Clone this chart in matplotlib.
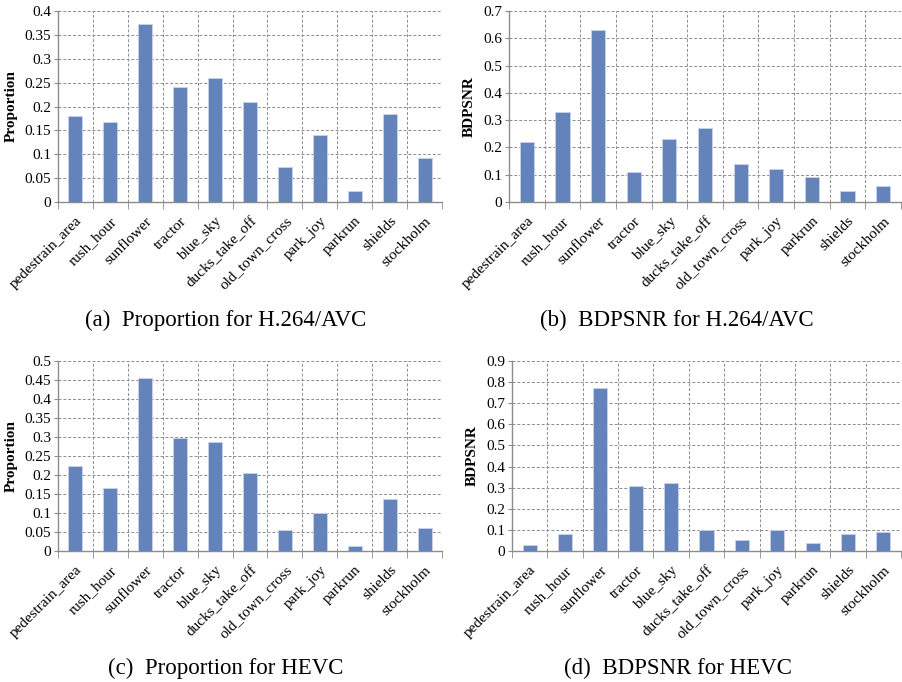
import numpy as np
import matplotlib.pyplot as plt

plt.rcParams['font.family'] = ['Liberation Serif', 'DejaVu Serif']

sequences = ['pedestrain_area', 'rush_hour', 'sunflower', 'tractor', 'blue_sky',
             'ducks_take_off', 'old_town_cross', 'park_joy', 'parkrun', 'shields',
             'stockholm']

prop_avc = [0.180, 0.167, 0.373, 0.241, 0.259, 0.210, 0.074, 0.140, 0.024, 0.185, 0.093]
bdpsnr_avc = [0.22, 0.33, 0.63, 0.11, 0.23, 0.27, 0.14, 0.12, 0.09, 0.04, 0.06]
prop_hevc = [0.224, 0.165, 0.454, 0.298, 0.286, 0.205, 0.054, 0.101, 0.013, 0.138, 0.061]
bdpsnr_hevc = [0.03, 0.08, 0.77, 0.31, 0.32, 0.10, 0.05, 0.10, 0.04, 0.08, 0.09]

captions = ['(a)  Proportion for H.264/AVC', '(b)  BDPSNR for H.264/AVC',
            '(c)  Proportion for HEVC', '(d)  BDPSNR for HEVC']

W, H = 902, 682
bar_color = '#6483BA'
grid_color = '#8c8c8c'


def px_axes(fig, left, top, right, bottom):
    return fig.add_axes([left / W, (H - bottom) / H, (right - left) / W, (bottom - top) / H])


def bar_panel(ax, values, ylabel, ymax, ystep, yfmt):
    x = np.arange(len(sequences))
    ax.bar(x, values, width=0.4, color=bar_color, edgecolor='#c9d4ea', linewidth=0.6, zorder=3)
    ax.set_xlim(-0.5, len(sequences) - 0.5)
    ax.set_ylim(0, ymax)
    yt = np.arange(0, ymax + ystep / 2, ystep)
    ax.set_yticks(yt)
    ax.set_yticklabels([yfmt(v) for v in yt], fontsize=11)
    ax.set_xticks(x)
    ax.set_xticklabels(sequences, rotation=45, ha='right', rotation_mode='anchor', fontsize=11)
    ax.set_xticks(np.arange(-0.5, len(sequences)), minor=True)
    ax.tick_params(axis='x', which='major', length=0, pad=9)
    ax.tick_params(axis='x', which='minor', length=5, color=grid_color, direction='out')
    ax.tick_params(axis='y', length=3, color=grid_color, pad=2)
    ax.grid(True, axis='y', which='major', color=grid_color, linestyle=(0, (3, 2)), linewidth=0.7, zorder=0)
    ax.grid(True, axis='x', which='minor', color=grid_color, linestyle=(0, (3, 2)), linewidth=0.7, zorder=0)
    for side in ['top', 'right']:
        ax.spines[side].set_visible(False)
    for side in ['left', 'bottom']:
        ax.spines[side].set_color(grid_color)
        ax.spines[side].set_linewidth(1.0)
    ax.set_ylabel(ylabel, fontsize=11, fontweight='bold', labelpad=5)


def fmt(v):
    s = f'{v:.2f}'.rstrip('0').rstrip('.')
    return s if s else '0'


fig = plt.figure(figsize=(W / 100, H / 100), dpi=100)

ax_a = px_axes(fig, 58, 11, 442, 202)
bar_panel(ax_a, prop_avc, 'Proportion', 0.4, 0.05, fmt)
ax_b = px_axes(fig, 509, 11, 901, 202)
bar_panel(ax_b, bdpsnr_avc, 'BDPSNR', 0.7, 0.1, fmt)
ax_c = px_axes(fig, 58, 361, 442, 551)
bar_panel(ax_c, prop_hevc, 'Proportion', 0.5, 0.05, fmt)
ax_d = px_axes(fig, 512, 361, 901, 551)
bar_panel(ax_d, bdpsnr_hevc, 'BDPSNR', 0.9, 0.1, fmt)

cap_pos = [(226, 320), (677, 320), (226, 668), (678, 668)]
for (cx, cy), text in zip(cap_pos, captions):
    fig.text(cx / W, (H - cy) / H, text, ha='center', va='center', fontsize=16.5)

fig.savefig('out.png', dpi=100)
